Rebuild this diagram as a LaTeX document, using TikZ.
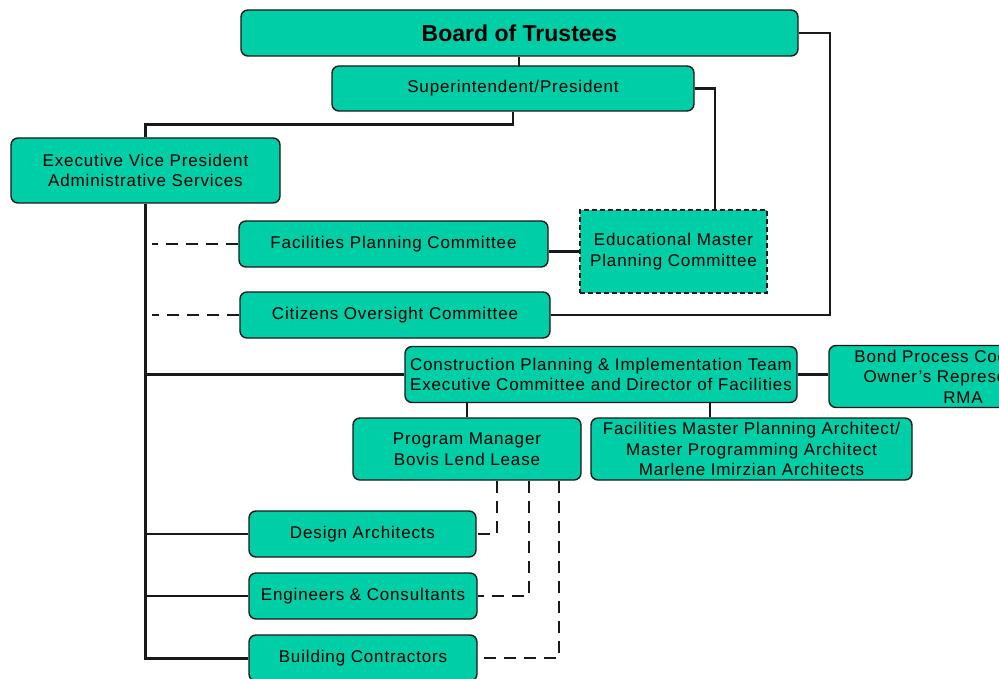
\documentclass[tikz,border=0pt]{standalone}
\usepackage{fontspec}
\setmainfont{Liberation Sans}[LetterSpace=5]
\newfontfamily\titlefont{Liberation Sans}
\definecolor{boxfill}{RGB}{0,206,167}
\definecolor{ink}{RGB}{25,25,25}
\tikzset{
  box/.style={draw=ink, line width=1.4pt, fill=boxfill, rounded corners=7pt,
    align=center, inner sep=0pt, font=\fontsize{17}{20.5}\selectfont},
  conn/.style={line width=2.4pt, draw=ink},
  dconn/.style={conn, dash pattern=on 12pt off 8pt},
}
\begin{document}
\begin{tikzpicture}[x=1pt,y=-1pt]
\useasboundingbox (0,0) rectangle (999,679);
\clip (0,0) rectangle (999,679);

% nodes
\node[box, minimum width=557pt, minimum height=46pt,
      font=\titlefont\fontsize{23}{26}\selectfont\bfseries] (board) at (519.5,33) {Board of Trustees};
\node[box, minimum width=362pt, minimum height=45pt] (super) at (513,88.5) {Superintendent/President};
\node[box, minimum width=269pt, minimum height=65pt] (evp) at (145.5,170.5)
  {Executive Vice President\\Administrative Services};
\node[box, minimum width=309pt, minimum height=46pt] (fpc) at (393.5,244) {Facilities Planning Committee};
\node[box, rounded corners=0pt, dash pattern=on 5pt off 3pt, minimum width=187pt, minimum height=83pt]
  (empc) at (673.5,251.5) {Educational Master\\Planning Committee};
\node[box, minimum width=310pt, minimum height=46pt] (coc) at (395,315) {Citizens Oversight Committee};
\node[box, minimum width=392pt, minimum height=56pt] (cpit) at (601,374.5)
  {Construction Planning \& Implementation Team\\Executive Committee and Director of Facilities};
\node[box, minimum width=268pt, minimum height=62pt] (bond) at (963,376.5)
  {Bond Process Coordinator\\Owner's Representative\\RMA};
\node[box, minimum width=228pt, minimum height=62pt] (pm) at (467,449) {Program Manager\\Bovis Lend Lease};
\node[box, minimum width=321pt, minimum height=62pt] (fmpa) at (751.5,449)
  {Facilities Master Planning Architect/\\Master Programming Architect\\Marlene Imirzian Architects};
\node[box, minimum width=227pt, minimum height=46pt] (da) at (362.5,534) {Design Architects};
\node[box, minimum width=228pt, minimum height=46pt] (ec) at (363,596) {Engineers \& Consultants};
\node[box, minimum width=228pt, minimum height=46pt] (bc) at (363,658) {Building Contractors};

% connectors
\draw[conn] (board.south -| super.north) ++(6,0) -- ++(0,10);
\draw[conn] (super.south) -- ++(0,13) -| (evp.north);
\draw[conn] (super.east) -| ([xshift=41.5pt]empc.north);
\draw[conn] (board.east) -- ++(31,0) |- (coc.east);
\draw[conn] (empc.west) -- (empc.west -| fpc.east);
\draw[conn, line width=3pt] (evp.south) -- (evp.south |- bc.west) -- (bc.west);
\draw[conn] (cpit.west) -- (cpit.west -| evp.south);
\draw[conn] (da.west) -- (da.west -| evp.south);
\draw[conn] (ec.west) -- (ec.west -| evp.south);
\draw[dconn] (fpc.west) -- ([xshift=6pt]fpc.west -| evp.south);
\draw[dconn] (coc.west) -- ([xshift=6pt]coc.west -| evp.south);
\draw[conn] (cpit.east) -- (cpit.east -| bond.west);
\draw[conn] (cpit.south -| pm.north) -- (pm.north);
\draw[conn] (cpit.south -| 710,0) -- (fmpa.north -| 710,0);
\draw[dconn] ([xshift=30pt]pm.south) |- (da.east);
\draw[dconn] ([xshift=62pt]pm.south) |- (ec.east);
\draw[dconn] ([xshift=92pt]pm.south) |- (bc.east);
\end{tikzpicture}
\end{document}
